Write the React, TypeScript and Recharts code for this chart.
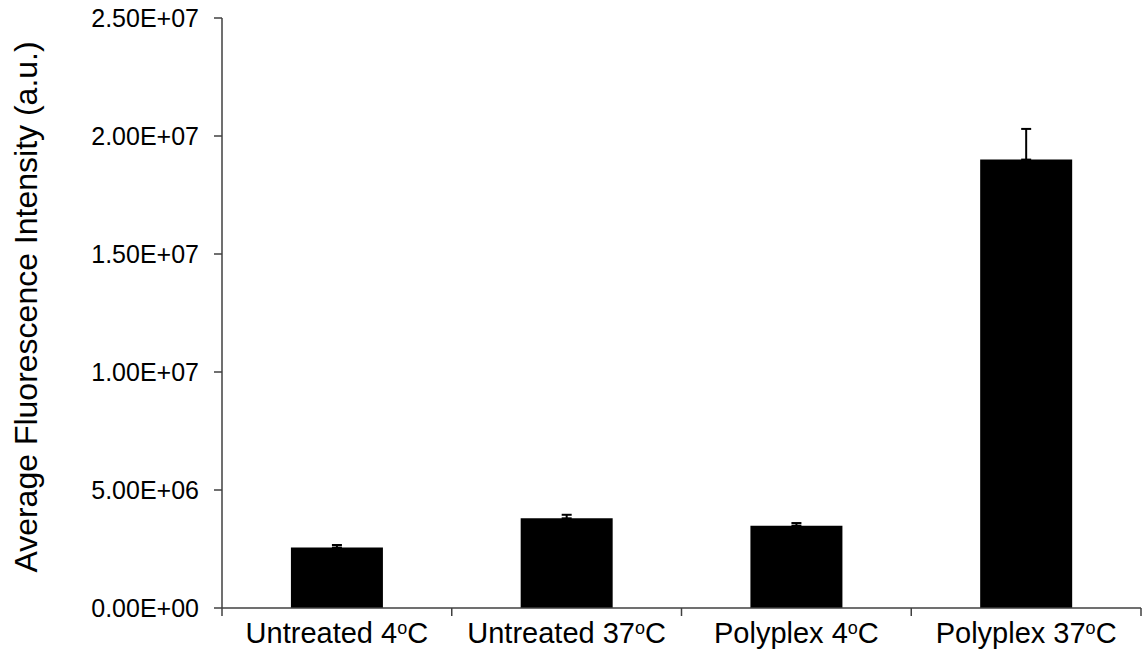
import React from "react";
import { BarChart, Bar, XAxis, YAxis, ErrorBar } from "recharts";

const groupNames = ["Untreated 4", "Untreated 37", "Polyplex 4", "Polyplex 37"];
const meanValues = [2.56e6, 3.8e6, 3.49e6, 1.9e7];
const errorValues = [0.11e6, 0.15e6, 0.11e6, 1.3e6];
const yTicks = [0, 5e6, 1e7, 1.5e7, 2e7, 2.5e7];

const data = groupNames.map((name, i) => ({
  name,
  value: meanValues[i],
  err: [0, errorValues[i]],
}));

const CHART_W = 1144;
const CHART_H = 655;
const Y_AXIS_W = 222;
const MARGIN = { top: 18, right: 3, bottom: 0, left: 0 };
const FONT = '"Liberation Sans", Arial, sans-serif';
const AXIS_COLOR = "#404040";
const HALF_BAND = (CHART_W - Y_AXIS_W - MARGIN.left - MARGIN.right) / groupNames.length / 2;

const fmtSci = (v: number) => {
  if (v === 0) return "0.00E+00";
  const exp = Math.floor(Math.log10(Math.abs(v)));
  const mant = v / Math.pow(10, exp);
  const sign = exp < 0 ? "-" : "+";
  return mant.toFixed(2) + "E" + sign + String(Math.abs(exp)).padStart(2, "0");
};

const XTick = (props: any) => {
  const { x, y, payload, index } = props;
  return (
    <g>
      <line x1={x - HALF_BAND} y1={y} x2={x - HALF_BAND} y2={y + 8} stroke={AXIS_COLOR} strokeWidth={1.5} />
      {index === groupNames.length - 1 && (
        <line x1={x + HALF_BAND} y1={y} x2={x + HALF_BAND} y2={y + 8} stroke={AXIS_COLOR} strokeWidth={1.5} />
      )}
      <text x={x} y={y + 35} textAnchor="middle" fontFamily={FONT} fontSize={29} fill="#000">
        {payload.value}
        <tspan fontSize={18} dy={-9}>o</tspan>
        <tspan dy={9}>C</tspan>
      </text>
    </g>
  );
};

const YLabel = (props: any) => {
  const { viewBox } = props;
  const cx = 37;
  const cy = viewBox.y + viewBox.height / 2 - 6;
  return (
    <text
      x={cx}
      y={cy}
      transform={`rotate(-90, ${cx}, ${cy})`}
      textAnchor="middle"
      fontFamily={FONT}
      fontSize={32}
      fill="#000"
    >
      Average Fluorescence Intensity (a.u.)
    </text>
  );
};

export default function App() {
  return (
    <div style={{ position: "absolute", left: 0, top: 0, background: "#fff" }}>
      <BarChart width={CHART_W} height={CHART_H} data={data} margin={MARGIN} barCategoryGap="30%">
        <XAxis
          dataKey="name"
          height={47}
          tickLine={false}
          tickSize={0}
          tickMargin={0}
          interval={0}
          tick={<XTick />}
          axisLine={{ stroke: AXIS_COLOR, strokeWidth: 1.5 }}
        />
        <YAxis
          width={Y_AXIS_W}
          domain={[0, 2.5e7]}
          ticks={yTicks}
          tickFormatter={fmtSci}
          tickSize={8}
          tickMargin={15}
          interval={0}
          tick={{ fontFamily: FONT, fontSize: 25, fill: "#000" }}
          tickLine={{ stroke: AXIS_COLOR, strokeWidth: 1.5 }}
          axisLine={{ stroke: AXIS_COLOR, strokeWidth: 1.5 }}
          label={{ content: <YLabel /> }}
        />
        <Bar dataKey="value" fill="#000" isAnimationActive={false}>
          <ErrorBar dataKey="err" width={5} stroke="#000" strokeWidth={2} direction="y" />
        </Bar>
      </BarChart>
    </div>
  );
}
